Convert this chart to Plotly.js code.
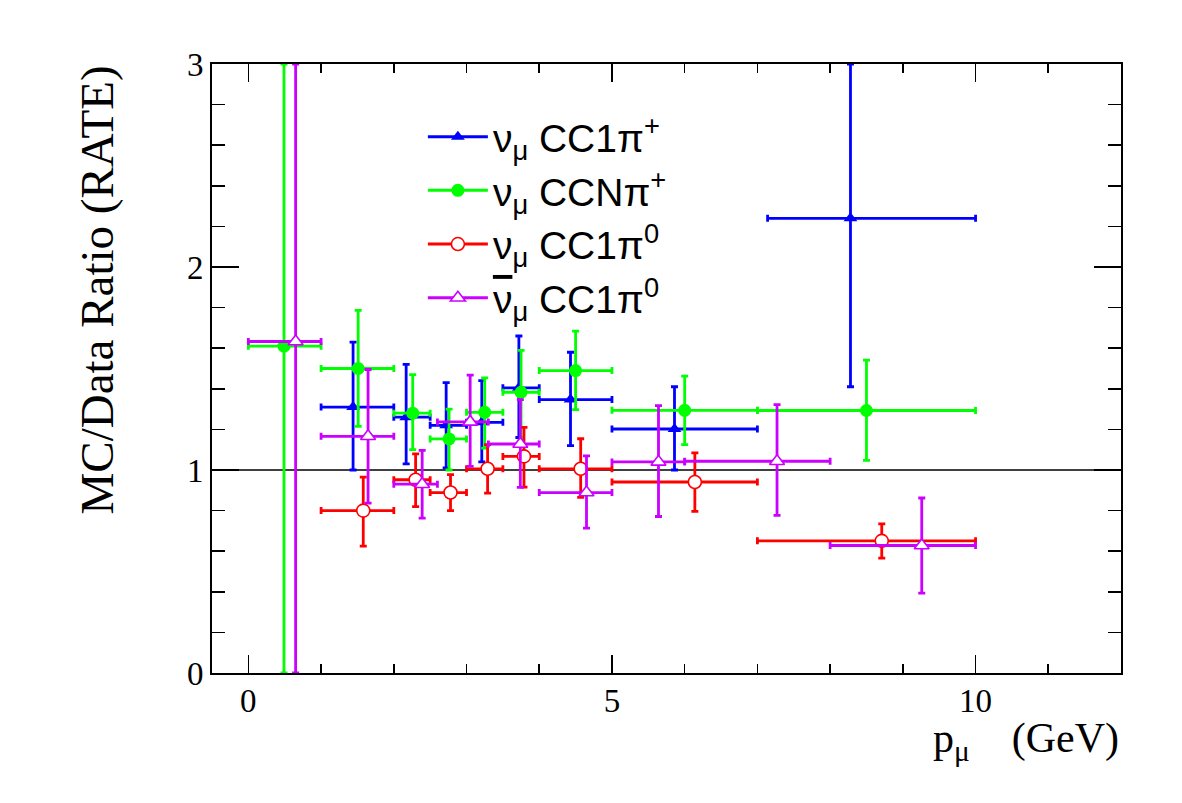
<!DOCTYPE html>
<html>
<head>
<meta charset="utf-8">
<script src="https://cdn.plot.ly/plotly-3.0.1.min.js"></script>
<style>
  html, body { margin: 0; padding: 0; background: #ffffff; }
  #chart { width: 1182px; height: 803px; }
</style>
</head>
<body>
<div id="chart"></div>
<script>
// ---- nu_mu CC1pi+ ----
const cc1pipP      = [1.44, 2.17, 2.72, 3.21, 3.72, 4.43, 5.86, 8.28];
const cc1pipRatio  = [1.31, 1.26, 1.22, 1.235, 1.405, 1.347, 1.202, 2.24];
const cc1pipBinLo  = [1.0, 2.0, 2.5, 3.0, 3.5, 4.0, 5.0, 7.14];
const cc1pipBinHi  = [2.0, 2.5, 3.0, 3.5, 4.0, 5.0, 7.0, 10.0];
const cc1pipHi     = [1.63, 1.52, 1.43, 1.44, 1.66, 1.58, 1.41, 3.0];
const cc1pipLo     = [1.0, 1.03, 1.01, 1.04, 1.16, 1.12, 1.0, 1.41];

// ---- nu_mu CCNpi+ ----
const ccnpipP      = [0.49, 1.51, 2.26, 2.76, 3.25, 3.75, 4.50, 6.0, 8.50];
const ccnpipRatio  = [1.61, 1.50, 1.28, 1.153, 1.284, 1.383, 1.49, 1.294, 1.293];
const ccnpipBinLo  = [0.0, 1.0, 2.0, 2.5, 3.0, 3.5, 4.0, 5.0, 7.0];
const ccnpipBinHi  = [1.0, 2.0, 2.5, 3.0, 3.5, 4.0, 5.0, 7.0, 10.0];
const ccnpipHi     = [3.0, 1.786, 1.47, 1.30, 1.454, 1.589, 1.684, 1.462, 1.541];
const ccnpipLo     = [0.0, 1.215, 1.10, 1.0, 1.108, 1.146, 1.297, 1.125, 1.047];

// ---- nu_mu CC1pi0 ----
const cc1pi0P      = [1.58, 2.30, 2.78, 3.29, 3.79, 4.57, 6.14, 8.71];
const cc1pi0Ratio  = [0.80, 0.952, 0.889, 1.006, 1.067, 1.006, 0.941, 0.651];
const cc1pi0BinLo  = [1.0, 2.0, 2.5, 3.0, 3.5, 4.0, 5.0, 7.0];
const cc1pi0BinHi  = [2.0, 2.5, 3.0, 3.5, 4.0, 5.0, 7.0, 10.0];
const cc1pi0Hi     = [0.965, 1.079, 0.977, 1.125, 1.21, 1.154, 1.084, 0.735];
const cc1pi0Lo     = [0.625, 0.82, 0.80, 0.886, 0.916, 0.865, 0.796, 0.566];

// ---- anti-nu_mu CC1pi0 ----
const bar1pi0P     = [0.65, 1.646, 2.39, 3.05, 3.74, 4.65, 5.64, 7.27, 9.26];
const bar1pi0Ratio = [1.633, 1.166, 0.93, 1.237, 1.128, 0.889, 1.04, 1.043, 0.628];
const bar1pi0BinLo = [0.0, 1.0, 2.0, 2.6, 3.3, 4.0, 5.0, 6.0, 8.0];
const bar1pi0BinHi = [1.0, 2.0, 2.6, 3.3, 4.0, 5.0, 6.0, 8.0, 10.0];
const bar1pi0Hi    = [3.0, 1.495, 1.097, 1.467, 1.347, 1.07, 1.317, 1.322, 0.862];
const bar1pi0Lo    = [0.0, 0.837, 0.763, 1.018, 0.914, 0.714, 0.771, 0.776, 0.393];

const seriesNames = [
  'ν<sub>μ</sub> CC1π<sup>+</sup>',
  'ν<sub>μ</sub> CCNπ<sup>+</sup>',
  'ν<sub>μ</sub> CC1π<sup>0</sup>',
  '<span style="text-decoration:overline">ν</span><sub>μ</sub> CC1π<sup>0</sup>'
];
const xTickVals = [0, 5, 10];
const yTickVals = [0, 1, 2, 3];
const unityRatio = 1;

const BLUE = '#0000ff', GREEN = '#00ff00', RED = '#ff0000', VIOLET = '#cc00ff';

function diff(a, b) { return a.map((v, i) => v - b[i]); }

function series(name, p, r, blo, bhi, hi, lo, color, marker) {
  const bar = { type: 'data', symmetric: false, color: color, thickness: 2.8, width: 3.5 };
  return {
    type: 'scatter', mode: 'markers', name: name, showlegend: false,
    x: p, y: r,
    error_x: Object.assign({}, bar, { array: diff(bhi, p), arrayminus: diff(p, blo) }),
    error_y: Object.assign({}, bar, { array: diff(hi, r), arrayminus: diff(r, lo) }),
    marker: marker
  };
}

function legendEntry(name, color, marker) {
  return {
    type: 'scatter', mode: 'lines+markers', name: name,
    x: [null], y: [null],
    line: { color: color, width: 3 },
    marker: marker, hoverinfo: 'skip'
  };
}

const mBlue   = { symbol: 'triangle-up', size: 12, color: BLUE };
const mGreen  = { symbol: 'circle', size: 13, color: GREEN };
const mRed    = { symbol: 'circle', size: 13, color: '#ffffff', line: { color: RED, width: 1.6 } };
const mViolet = { symbol: 'triangle-up', size: 13, color: '#ffffff', line: { color: VIOLET, width: 1.6 } };

const data = [
  series(seriesNames[0], cc1pipP, cc1pipRatio, cc1pipBinLo, cc1pipBinHi, cc1pipHi, cc1pipLo, BLUE, mBlue),
  series(seriesNames[1], ccnpipP, ccnpipRatio, ccnpipBinLo, ccnpipBinHi, ccnpipHi, ccnpipLo, GREEN, mGreen),
  series(seriesNames[2], cc1pi0P, cc1pi0Ratio, cc1pi0BinLo, cc1pi0BinHi, cc1pi0Hi, cc1pi0Lo, RED, mRed),
  series(seriesNames[3], bar1pi0P, bar1pi0Ratio, bar1pi0BinLo, bar1pi0BinHi, bar1pi0Hi, bar1pi0Lo, VIOLET, mViolet),
  legendEntry(seriesNames[0], BLUE, mBlue),
  legendEntry(seriesNames[1], GREEN, mGreen),
  legendEntry(seriesNames[2], RED, mRed),
  legendEntry(seriesNames[3], VIOLET, mViolet)
];

const serif = 'Liberation Serif, Times New Roman, serif';
const sans = 'Liberation Sans, Arial, sans-serif';

const axisCommon = {
  showgrid: false, zeroline: false,
  showline: true, linecolor: '#000000', linewidth: 2,
  mirror: 'ticks', ticks: 'inside', tickcolor: '#000000', tickwidth: 1.6,
  tickfont: { family: serif, size: 33, color: '#000000' }
};

const layout = {
  width: 1182, height: 803,
  margin: { l: 212, r: 61, t: 64, b: 130 },
  paper_bgcolor: '#ffffff', plot_bgcolor: '#ffffff',
  showlegend: true,
  legend: {
    x: 0.232, y: 0.933, xanchor: 'left', yanchor: 'top',
    bgcolor: 'rgba(0,0,0,0)', borderwidth: 0,
    font: { family: sans, size: 39, color: '#000000' },
    itemwidth: 60
  },
  xaxis: Object.assign({}, axisCommon, {
    range: [-0.5, 12], tickmode: 'array', tickvals: xTickVals,
    ticktext: xTickVals.map(String), ticklen: 18, ticklabelstandoff: -3,
    minor: { tick0: 0, dtick: 1, ticks: 'inside', ticklen: 9, tickwidth: 1.6, tickcolor: '#000000', showgrid: false }
  }),
  yaxis: Object.assign({}, axisCommon, {
    range: [0, 3], tickmode: 'array', tickvals: yTickVals,
    ticktext: yTickVals.map(String), ticklen: 27, ticklabelstandoff: 0,
    minor: { tick0: 0, dtick: 0.2, ticks: 'inside', ticklen: 13, tickwidth: 1.6, tickcolor: '#000000', showgrid: false }
  }),
  shapes: [{
    type: 'line', layer: 'below', xref: 'paper', x0: 0, x1: 1,
    yref: 'y', y0: unityRatio, y1: unityRatio,
    line: { color: '#000000', width: 1.5 }
  }],
  annotations: [
    {
      text: 'MC/Data Ratio (RATE)', textangle: -90, showarrow: false,
      xref: 'paper', x: 0, xshift: -116, xanchor: 'center',
      yref: 'paper', y: 1, yanchor: 'top',
      font: { family: serif, size: 47, color: '#000000' }
    },
    {
      text: 'p<sub>μ</sub>\u2003(GeV)', showarrow: false,
      xref: 'paper', x: 1, xanchor: 'right',
      yref: 'paper', y: 0, yanchor: 'top', yshift: -40,
      font: { family: serif, size: 42, color: '#000000' }
    }
  ]
};

Plotly.newPlot('chart', data, layout, { displayModeBar: false, staticPlot: true });
</script>
</body>
</html>
